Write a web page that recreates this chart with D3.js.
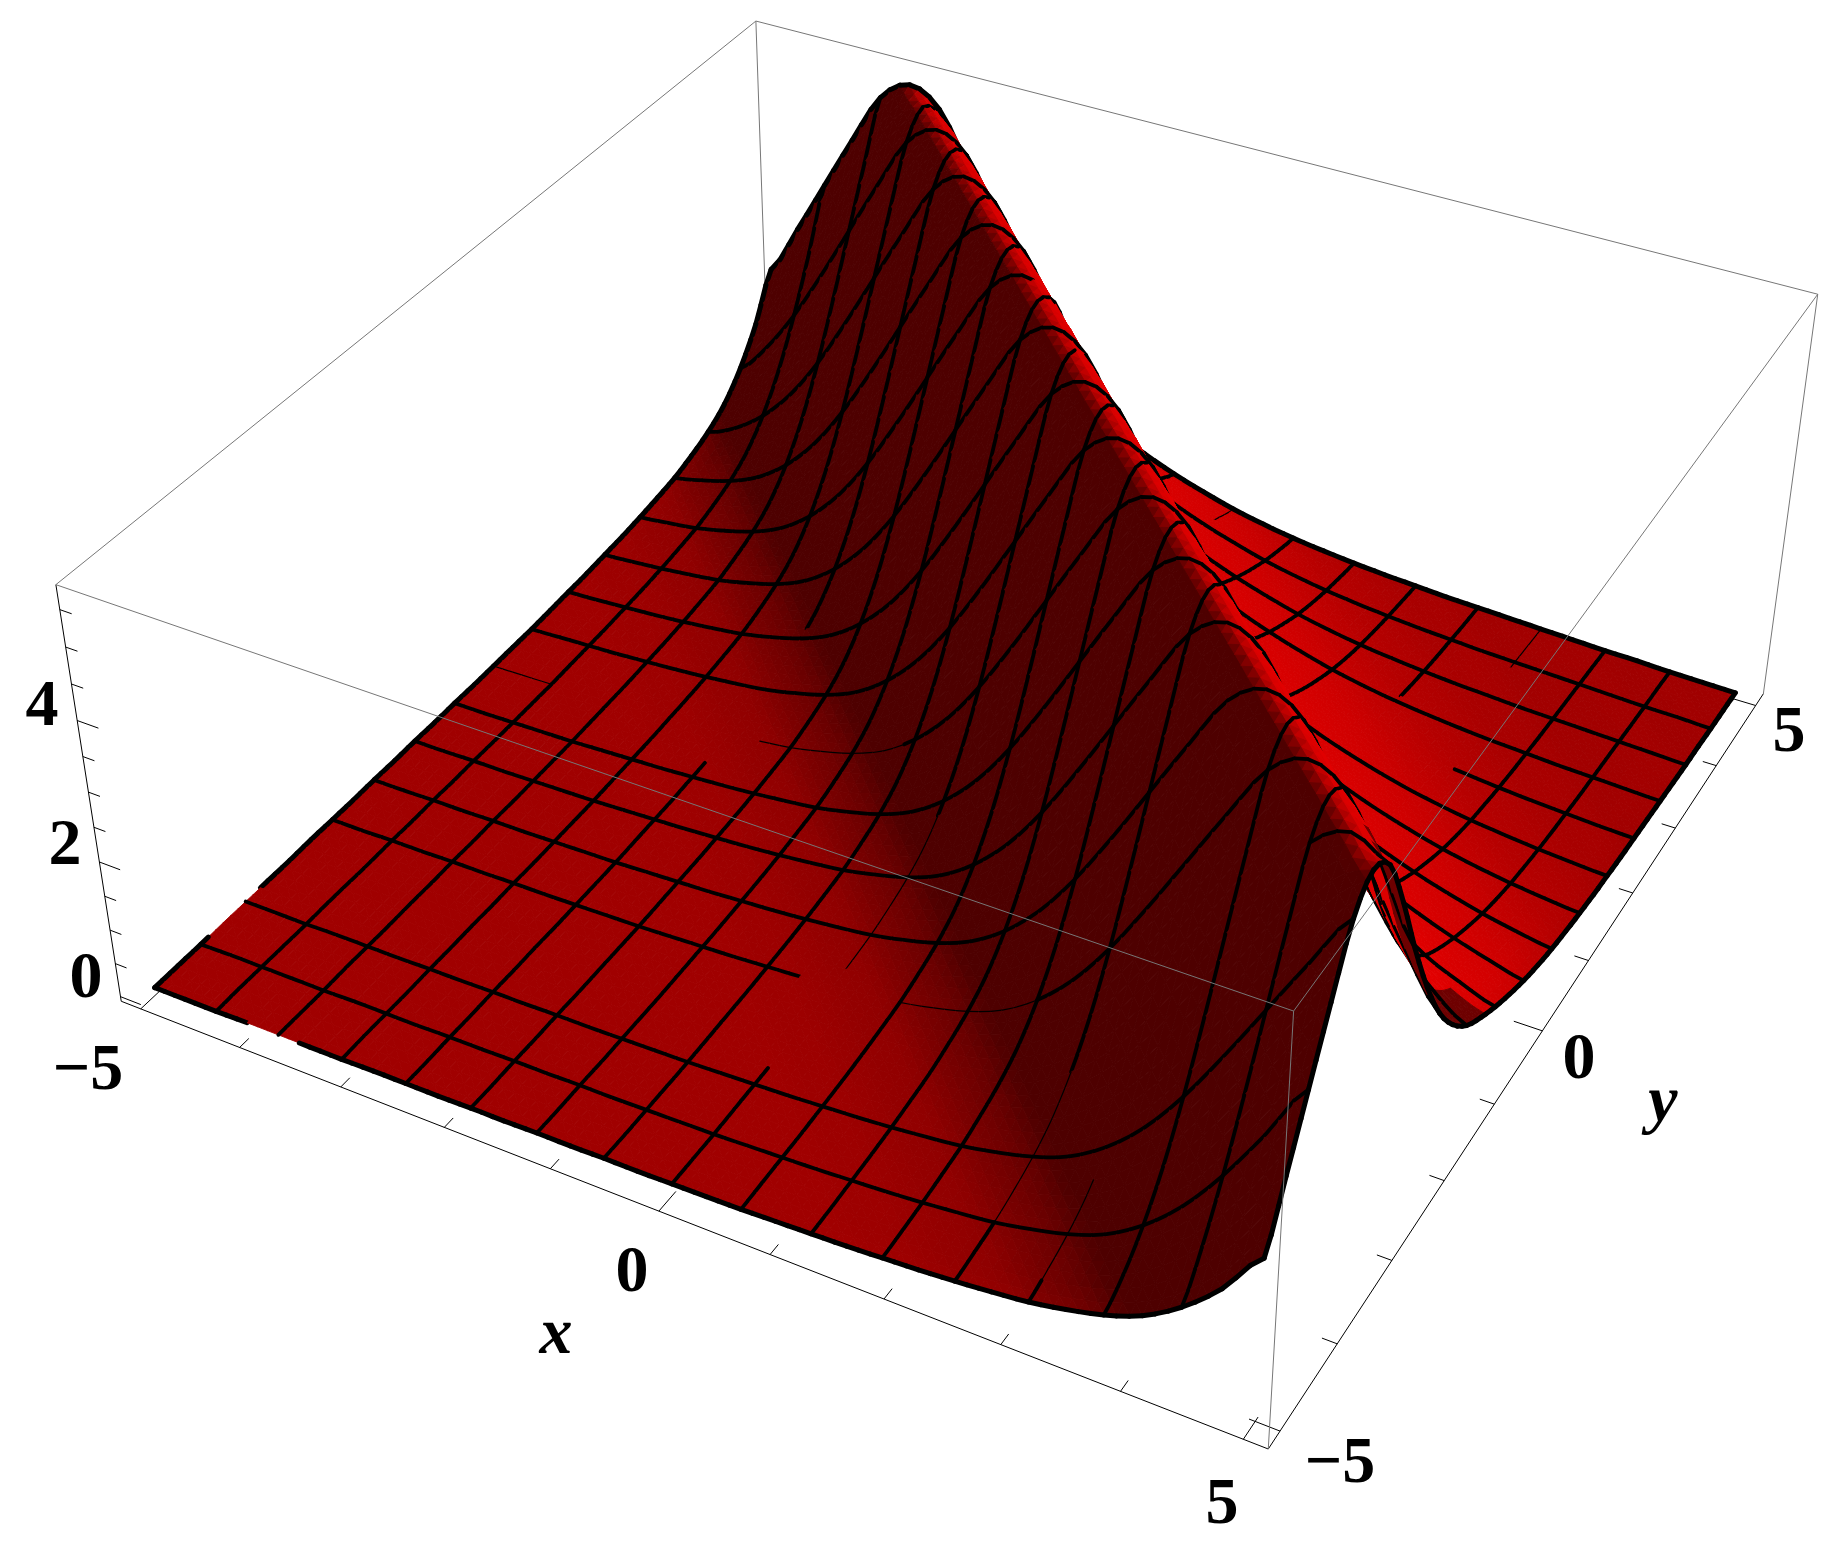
<!DOCTYPE html>
<html>
<head>
<meta charset="utf-8">
<script src="https://cdnjs.cloudflare.com/ajax/libs/d3/7.8.5/d3.min.js"></script>
<style>
  html, body { margin: 0; padding: 0; background: #fff; }
  .tickLabel { font-family: "Liberation Serif", serif; font-weight: bold; font-size: 66px; text-anchor: middle; }
  .axisName { font-style: italic; }
</style>
</head>
<body>
<div id="plot"></div>
<script>
// sample positions of the surface, the mesh lines fall on every second one
var gridX = [-5, -4.6875, -4.375, -4.0625, -3.75, -3.4375, -3.125, -2.8125, -2.5, -2.1875, -1.875, -1.5625, -1.25, -0.9375, -0.625, -0.3125, 0, 0.3125, 0.625, 0.9375, 1.25, 1.5625, 1.875, 2.1875, 2.5, 2.8125, 3.125, 3.4375, 3.75, 4.0625, 4.375, 4.6875, 5];
var gridY = [-5, -4.6875, -4.375, -4.0625, -3.75, -3.4375, -3.125, -2.8125, -2.5, -2.1875, -1.875, -1.5625, -1.25, -0.9375, -0.625, -0.3125, 0, 0.3125, 0.625, 0.9375, 1.25, 1.5625, 1.875, 2.1875, 2.5, 2.8125, 3.125, 3.4375, 3.75, 4.0625, 4.375, 4.6875, 5];

// heights, one row per gridY (front to back), one column per gridX
var surfaceZ = [
  [.04,.04,.04,.05,.05,.05,.05,.06,.06,.06,.07,.07,.08,.08,.09,.09,.10,.11,.12,.14,.16,.18,.21,.24,.28,.33,.39,.49,.62,.82,1.15,1.62,2.25],
  [.04,.04,.05,.05,.05,.05,.06,.06,.06,.07,.07,.08,.08,.09,.09,.10,.11,.12,.14,.16,.18,.21,.24,.28,.33,.39,.49,.62,.82,1.15,1.62,2.25,3.0],
  [.04,.05,.05,.05,.05,.06,.06,.06,.07,.07,.08,.08,.09,.09,.10,.11,.12,.14,.16,.18,.21,.24,.28,.33,.39,.49,.62,.82,1.15,1.62,2.25,3.0,3.8],
  [.05,.05,.05,.05,.06,.06,.06,.07,.07,.08,.08,.09,.09,.10,.11,.12,.14,.16,.18,.21,.24,.28,.33,.39,.49,.62,.82,1.15,1.62,2.25,3.0,3.8,4.6],
  [.05,.05,.05,.06,.06,.06,.07,.07,.08,.08,.09,.09,.10,.11,.12,.14,.16,.18,.21,.24,.28,.33,.39,.49,.62,.82,1.15,1.62,2.25,3.0,3.8,4.6,5.35],
  [.05,.05,.06,.06,.06,.07,.07,.08,.08,.09,.09,.10,.11,.12,.14,.16,.18,.21,.24,.28,.33,.39,.49,.62,.82,1.15,1.62,2.25,3.0,3.8,4.6,5.35,5.65],
  [.05,.06,.06,.06,.07,.07,.08,.08,.09,.09,.10,.11,.12,.14,.16,.18,.21,.24,.28,.33,.39,.49,.62,.82,1.15,1.62,2.25,3.0,3.8,4.6,5.35,5.65,5.4],
  [.06,.06,.06,.07,.07,.08,.08,.09,.09,.10,.11,.12,.14,.16,.18,.21,.24,.28,.33,.39,.49,.62,.82,1.15,1.62,2.25,3.0,3.8,4.6,5.35,5.65,5.4,4.6],
  [.06,.06,.07,.07,.08,.08,.09,.09,.10,.11,.12,.14,.16,.18,.21,.24,.28,.33,.39,.49,.62,.82,1.15,1.62,2.25,3.0,3.8,4.6,5.35,5.65,5.4,4.6,3.65],
  [.06,.07,.07,.08,.08,.09,.09,.10,.11,.12,.14,.16,.18,.21,.24,.28,.33,.39,.49,.62,.82,1.15,1.62,2.25,3.0,3.8,4.6,5.35,5.65,5.4,4.6,3.65,2.8],
  [.07,.07,.08,.08,.09,.09,.10,.11,.12,.14,.16,.18,.21,.24,.28,.33,.39,.49,.62,.82,1.15,1.62,2.25,3.0,3.8,4.6,5.35,5.65,5.4,4.6,3.65,2.8,2.1],
  [.07,.08,.08,.09,.09,.10,.11,.12,.14,.16,.18,.21,.24,.28,.33,.39,.49,.62,.82,1.15,1.62,2.25,3.0,3.8,4.6,5.35,5.65,5.4,4.6,3.65,2.8,2.1,1.6],
  [.08,.08,.09,.09,.10,.11,.12,.14,.16,.18,.21,.24,.28,.33,.39,.49,.62,.82,1.15,1.62,2.25,3.0,3.8,4.6,5.35,5.65,5.4,4.6,3.65,2.8,2.1,1.6,1.25],
  [.08,.09,.09,.10,.11,.12,.14,.16,.18,.21,.24,.28,.33,.39,.49,.62,.82,1.15,1.62,2.25,3.0,3.8,4.6,5.35,5.65,5.4,4.6,3.65,2.8,2.1,1.6,1.25,1.03],
  [.09,.09,.10,.11,.12,.14,.16,.18,.21,.24,.28,.33,.39,.49,.62,.82,1.15,1.62,2.25,3.0,3.8,4.6,5.35,5.65,5.4,4.6,3.65,2.8,2.1,1.6,1.25,1.03,.85],
  [.09,.10,.11,.12,.14,.16,.18,.21,.24,.28,.33,.39,.49,.62,.82,1.15,1.62,2.25,3.0,3.8,4.6,5.35,5.65,5.4,4.6,3.65,2.8,2.1,1.6,1.25,1.03,.85,.70],
  [.10,.11,.12,.14,.16,.18,.21,.24,.28,.33,.39,.49,.62,.82,1.15,1.62,2.25,3.0,3.8,4.6,5.35,5.65,5.4,4.6,3.65,2.8,2.1,1.6,1.25,1.03,.85,.70,.57],
  [.11,.12,.14,.16,.18,.21,.24,.28,.33,.39,.49,.62,.82,1.15,1.62,2.25,3.0,3.8,4.6,5.35,5.65,5.4,4.6,3.65,2.8,2.1,1.6,1.25,1.03,.85,.70,.57,.47],
  [.12,.14,.16,.18,.21,.24,.28,.33,.39,.49,.62,.82,1.15,1.62,2.25,3.0,3.8,4.6,5.35,5.65,5.4,4.6,3.65,2.8,2.1,1.6,1.25,1.03,.85,.70,.57,.47,.39],
  [.14,.16,.18,.21,.24,.28,.33,.39,.49,.62,.82,1.15,1.62,2.25,3.0,3.8,4.6,5.35,5.65,5.4,4.6,3.65,2.8,2.1,1.6,1.25,1.03,.85,.70,.57,.47,.39,.33],
  [.16,.18,.21,.24,.28,.33,.39,.49,.62,.82,1.15,1.62,2.25,3.0,3.8,4.6,5.35,5.65,5.4,4.6,3.65,2.8,2.1,1.6,1.25,1.03,.85,.70,.57,.47,.39,.33,.28],
  [.18,.21,.24,.28,.33,.39,.49,.62,.82,1.15,1.62,2.25,3.0,3.8,4.6,5.35,5.65,5.4,4.6,3.65,2.8,2.1,1.6,1.25,1.03,.85,.70,.57,.47,.39,.33,.28,.24],
  [.21,.24,.28,.33,.39,.49,.62,.82,1.15,1.62,2.25,3.0,3.8,4.6,5.35,5.65,5.4,4.6,3.65,2.8,2.1,1.6,1.25,1.03,.85,.70,.57,.47,.39,.33,.28,.24,.21],
  [.24,.28,.33,.39,.49,.62,.82,1.15,1.62,2.25,3.0,3.8,4.6,5.35,5.65,5.4,4.6,3.65,2.8,2.1,1.6,1.25,1.03,.85,.70,.57,.47,.39,.33,.28,.24,.21,.18],
  [.28,.33,.39,.49,.62,.82,1.15,1.62,2.25,3.0,3.8,4.6,5.35,5.65,5.4,4.6,3.65,2.8,2.1,1.6,1.25,1.03,.85,.70,.57,.47,.39,.33,.28,.24,.21,.18,.16],
  [.33,.39,.49,.62,.82,1.15,1.62,2.25,3.0,3.8,4.6,5.35,5.65,5.4,4.6,3.65,2.8,2.1,1.6,1.25,1.03,.85,.70,.57,.47,.39,.33,.28,.24,.21,.18,.16,.14],
  [.39,.49,.62,.82,1.15,1.62,2.25,3.0,3.8,4.6,5.35,5.65,5.4,4.6,3.65,2.8,2.1,1.6,1.25,1.03,.85,.70,.57,.47,.39,.33,.28,.24,.21,.18,.16,.14,.12],
  [.49,.62,.82,1.15,1.62,2.25,3.0,3.8,4.6,5.35,5.65,5.4,4.6,3.65,2.8,2.1,1.6,1.25,1.03,.85,.70,.57,.47,.39,.33,.28,.24,.21,.18,.16,.14,.12,.10],
  [.62,.82,1.15,1.62,2.25,3.0,3.8,4.6,5.35,5.65,5.4,4.6,3.65,2.8,2.1,1.6,1.25,1.03,.85,.70,.57,.47,.39,.33,.28,.24,.21,.18,.16,.14,.12,.10,.08],
  [.82,1.15,1.62,2.25,3.0,3.8,4.6,5.35,5.65,5.4,4.6,3.65,2.8,2.1,1.6,1.25,1.03,.85,.70,.57,.47,.39,.33,.28,.24,.21,.18,.16,.14,.12,.10,.08,.07],
  [1.15,1.62,2.25,3.0,3.8,4.6,5.35,5.65,5.4,4.6,3.65,2.8,2.1,1.6,1.25,1.03,.85,.70,.57,.47,.39,.33,.28,.24,.21,.18,.16,.14,.12,.10,.08,.07,.05],
  [1.62,2.25,3.0,3.8,4.6,5.35,5.65,5.4,4.6,3.65,2.8,2.1,1.6,1.25,1.03,.85,.70,.57,.47,.39,.33,.28,.24,.21,.18,.16,.14,.12,.10,.08,.07,.05,.04],
  [2.25,3.0,3.8,4.6,5.35,5.65,5.4,4.6,3.65,2.8,2.1,1.6,1.25,1.03,.85,.70,.57,.47,.39,.33,.28,.24,.21,.18,.16,.14,.12,.10,.08,.07,.05,.04,.03]
];

// stretches where the mesh line drops out or goes hairline in the picture
// [family, line number 0-16, from, to (in mesh cells along the line), width]
var meshBreaks = [
  ["x", 0, 1.1, 2.4, 0],
  ["y", 0, 1.5, 2.3, 0],
  ["y", 3, 0, 15, 0],
  ["y", 4, 7.45, 9, 0],
  ["y", 4, 9, 11, 1.2],
  ["y", 8, 0, 1, 1.2],
  ["y", 8, 1, 4.5, 0],
  ["y", 8, 4.5, 6.9, 1.2],
  ["y", 12, 6.7, 13.3, 0],
  ["x", 4, 7.4, 10.2, 0],
  ["x", 8, 2.3, 4.3, 0],
  ["x", 8, 4.3, 6.9, 1.2],
  ["x", 8, 10.7, 15.4, 0],
  ["x", 8, 15.4, 16, 1.2],
  ["x", 12, 1, 3, 1.2],
  ["x", 12, 6.8, 13.2, 0],
  ["x", 13, 0.3, 1.7, 1.2],
  ["x", 13, 1.7, 14.9, 0],
  ["x", 13, 14.9, 16, 1.2]
];

var xTicks = [-5, -4, -3, -2, -1, 0, 1, 2, 3, 4, 5];
var yTicks = [-5, -4, -3, -2, -1, 0, 1, 2, 3, 4, 5];
var zTicks = [0, 0.5, 1, 1.5, 2, 2.5, 3, 3.5, 4, 4.5, 5, 5.5];
var xMajor = [-5, 0, 5];
var yMajor = [-5, 0, 5];
var zMajor = [0, 2, 4];

var svgWidth = 1843;
var svgHeight = 1545;

var svg = d3.select("#plot")
  .append("svg")
  .attr("width", svgWidth)
  .attr("height", svgHeight)
  .style("display", "block");

// box coordinates
var xScale = d3.scaleLinear().domain([-5.2, 5.2]).range([0, 1]);
var yScale = d3.scaleLinear().domain([-5.2, 5.2]).range([0, 1]);
var zScale = d3.scaleLinear().domain([-0.07, 5.83]).range([0, 1]);

// where the box corners land on the page, the camera is fitted to these
var boxCorners = [
  [0, 0, 0, 121, 1001],
  [1, 0, 0, 1269, 1449],
  [1, 1, 0, 1763, 694],
  [0, 0, 1, 56, 585],
  [1, 0, 1, 1293, 1011],
  [1, 1, 1, 1818, 294],
  [0, 1, 1, 756, 21]
];

function solve(A, b) {
  var n = b.length;
  for (var c = 0; c < n; c++) {
    var best = c;
    for (var r = c + 1; r < n; r++) {
      if (Math.abs(A[r][c]) > Math.abs(A[best][c])) best = r;
    }
    var tmp = A[c]; A[c] = A[best]; A[best] = tmp;
    var tb = b[c]; b[c] = b[best]; b[best] = tb;
    for (var r2 = c + 1; r2 < n; r2++) {
      var f = A[r2][c] / A[c][c];
      for (var k = c; k < n; k++) A[r2][k] -= f * A[c][k];
      b[r2] -= f * b[c];
    }
  }
  var out = new Array(n);
  for (var i = n - 1; i >= 0; i--) {
    var s = b[i];
    for (var j = i + 1; j < n; j++) s -= A[i][j] * out[j];
    out[i] = s / A[i][i];
  }
  return out;
}

function fitCamera(corners) {
  var rows = [], rhs = [];
  corners.forEach(function(c) {
    rows.push([c[0], c[1], c[2], 1, 0, 0, 0, 0, -c[3] * c[0], -c[3] * c[1], -c[3] * c[2]]);
    rhs.push(c[3]);
    rows.push([0, 0, 0, 0, c[0], c[1], c[2], 1, -c[4] * c[0], -c[4] * c[1], -c[4] * c[2]]);
    rhs.push(c[4]);
  });
  var AtA = d3.range(11).map(function(a) {
    return d3.range(11).map(function(b) {
      return d3.sum(rows, function(r) { return r[a] * r[b]; });
    });
  });
  var Atb = d3.range(11).map(function(a) {
    return d3.sum(rows, function(r, i) { return r[a] * rhs[i]; });
  });
  return solve(AtA, Atb);
}

var cam = fitCamera(boxCorners);

function toPage(u, v, w) {
  var d = cam[8] * u + cam[9] * v + cam[10] * w + 1;
  return [
    (cam[0] * u + cam[1] * v + cam[2] * w + cam[3]) / d,
    (cam[4] * u + cam[5] * v + cam[6] * w + cam[7]) / d
  ];
}

function project(x, y, z) {
  return toPage(xScale(x), yScale(y), zScale(z));
}

var line = d3.line();

// smooth the read values for drawing, same idea as a catmull-rom curve but in two directions
var sub = 3;
var perMesh = sub * 2;
function cr(a, b, c, d, t) {
  return 0.5 * (2 * b + (c - a) * t + (2 * a - 5 * b + 4 * c - d) * t * t + (3 * b - a - 3 * c + d) * t * t * t);
}
function clampIdx(i) { return Math.max(0, Math.min(gridX.length - 1, i)); }
function heightAt(fi, fj) {
  var i = Math.min(Math.floor(fi), gridX.length - 2), j = Math.min(Math.floor(fj), gridY.length - 2);
  var tx = fi - i, ty = fj - j;
  var col = [-1, 0, 1, 2].map(function(dj) {
    var row = surfaceZ[clampIdx(j + dj)];
    return cr(row[clampIdx(i - 1)], row[clampIdx(i)], row[clampIdx(i + 1)], row[clampIdx(i + 2)], tx);
  });
  return cr(col[0], col[1], col[2], col[3], ty);
}

var n = (gridX.length - 1) * sub;
var fineX = d3.scaleLinear().domain([0, n]).range([gridX[0], gridX[gridX.length - 1]]);
var fineY = d3.scaleLinear().domain([0, n]).range([gridY[0], gridY[gridY.length - 1]]);
var fineZ = d3.range(n + 1).map(function(j) {
  return d3.range(n + 1).map(function(i) { return heightAt(i / sub, j / sub); });
});
var pts = fineZ.map(function(row, j) {
  return row.map(function(z, i) { return project(fineX(i), fineY(j), z); });
});

// light comes from the +x +y side, flat parts stay at the base red
var shade = d3.scaleLinear().domain([-0.25, 0.1, 0.38, 0.54, 1]).range([78, 125, 160, 160, 226]).clamp(true);
var lightDir = [0.62, 0.62, 0.48];
var reds = d3.range(n + 1).map(function(j) {
  return d3.range(n + 1).map(function(i) {
    var i0 = Math.max(0, i - 1), i1 = Math.min(n, i + 1), j0 = Math.max(0, j - 1), j1 = Math.min(n, j + 1);
    var zx = (fineZ[j][i1] - fineZ[j][i0]) / (fineX(i1) - fineX(i0));
    var zy = (fineZ[j1][i] - fineZ[j0][i]) / (fineY(j1) - fineY(j0));
    var len = Math.sqrt(1 + zx * zx + zy * zy);
    return shade((-zx * lightDir[0] - zy * lightDir[1] + lightDir[2]) / len);
  });
});

// width of a mesh line at position t along it
function meshWidth(family, index, t, normal) {
  var w = normal;
  meshBreaks.forEach(function(b) {
    if (b[0] === family && b[1] === index && t >= b[2] && t < b[3]) w = b[4];
  });
  return w;
}

// painter order, back corner first
var marks = [];
function addEdge(a, b, family, index, t, normal) {
  var w = meshWidth(family, index, t, normal);
  if (w > 0) marks.push({ d: line([a, b]), fill: "none", stroke: "#000", width: w });
}
function addTriangle(a, b, c, red) {
  var col = "rgb(" + Math.round(red) + ",0,0)";
  marks.push({ d: line([a, b, c]) + "Z", fill: col, stroke: col, width: 0.9 });
}
var last = n - 1;
for (var i = 0; i < n; i++) {
  for (var j = n - 1; j >= 0; j--) {
    // cells are split along the ridge direction so the shading does not staircase
    var lowRed = (reds[j][i] + reds[j + 1][i] + reds[j][i + 1]) / 3;
    var highRed = (reds[j + 1][i + 1] + reds[j + 1][i] + reds[j][i + 1]) / 3;
    // the last strip at x = 5 turns dark between the crest and the dip
    var xHere = fineX(i), yHere = fineY(j);
    if (xHere > 4.6 && xHere + yHere > 1.7 && yHere < -0.9) {
      lowRed = 110;
      highRed = 110;
    }
    addTriangle(pts[j + 1][i + 1], pts[j + 1][i], pts[j][i + 1], highRed);
    addTriangle(pts[j][i], pts[j + 1][i], pts[j][i + 1], lowRed);
    var tx = (i + 0.5) / perMesh, ty = (j + 0.5) / perMesh;
    if (i % perMesh === 0) addEdge(pts[j][i], pts[j + 1][i], "x", i / perMesh, ty, i === 0 ? 5 : 3.8);
    if ((j + 1) % perMesh === 0) addEdge(pts[j + 1][i], pts[j + 1][i + 1], "y", (j + 1) / perMesh, tx, j === last ? 5 : 3.8);
    if (j === 0) addEdge(pts[j][i], pts[j][i + 1], "y", 0, tx, 5);
    if (i === last) addEdge(pts[j][i + 1], pts[j + 1][i + 1], "x", 16, ty, 5);
  }
}

function boxLine(g, a, b, color) {
  g.append("path")
    .attr("d", line([toPage(a[0], a[1], a[2]), toPage(b[0], b[1], b[2])]))
    .attr("fill", "none")
    .attr("stroke", color)
    .attr("stroke-width", 1);
}

// back of the box and the axes go under the surface
var behind = svg.append("g");
boxLine(behind, [0, 1, 1], [0, 0, 1], "#777");
boxLine(behind, [0, 1, 1], [1, 1, 1], "#777");
boxLine(behind, [0, 1, 1], [0, 1, 0], "#777");
boxLine(behind, [1, 1, 1], [1, 1, 0], "#777");
boxLine(behind, [0, 0, 0], [0, 0, 1], "#000");
boxLine(behind, [0, 0, 0], [1, 0, 0], "#000");
boxLine(behind, [1, 0, 0], [1, 1, 0], "#000");

xTicks.forEach(function(t) {
  var len = xMajor.indexOf(t) >= 0 ? 0.024 : 0.012;
  boxLine(behind, [xScale(t), 0, 0], [xScale(t), len, 0], "#000");
});
yTicks.forEach(function(t) {
  var len = yMajor.indexOf(t) >= 0 ? 0.024 : 0.012;
  boxLine(behind, [1, yScale(t), 0], [1 - len, yScale(t), 0], "#000");
});
zTicks.forEach(function(t) {
  var len = zMajor.indexOf(t) >= 0 ? 0.02 : 0.011;
  boxLine(behind, [0, 0, zScale(t)], [len, 0, zScale(t)], "#000");
});

svg.append("g")
  .selectAll("path")
  .data(marks)
  .enter()
  .append("path")
  .attr("d", function(d) { return d.d; })
  .attr("fill", function(d) { return d.fill; })
  .attr("stroke", function(d) { return d.stroke; })
  .attr("stroke-width", function(d) { return d.width; })
  .attr("stroke-linecap", function(d) { return d.fill === "none" ? "round" : "butt"; });

// front edges of the box sit on top
var front = svg.append("g");
boxLine(front, [0, 0, 1], [1, 0, 1], "#777");
boxLine(front, [1, 0, 1], [1, 1, 1], "#777");
boxLine(front, [1, 0, 1], [1, 0, 0], "#777");

// labels
var labels = [
  { text: "4", x: 42, y: 703 },
  { text: "2", x: 65, y: 842 },
  { text: "0", x: 86, y: 975 },
  { text: "\u22125", x: 88, y: 1067 },
  { text: "0", x: 632, y: 1269 },
  { text: "x", x: 556, y: 1331, name: true },
  { text: "5", x: 1222, y: 1501 },
  { text: "\u22125", x: 1340, y: 1460 },
  { text: "0", x: 1579, y: 1056 },
  { text: "y", x: 1663, y: 1099, name: true },
  { text: "5", x: 1789, y: 729 }
];
svg.append("g")
  .selectAll("text")
  .data(labels)
  .enter()
  .append("text")
  .attr("class", function(d) { return d.name ? "tickLabel axisName" : "tickLabel"; })
  .attr("x", function(d) { return d.x; })
  .attr("y", function(d) { return d.y; })
  .attr("dy", "0.33em")
  .text(function(d) { return d.text; });
</script>
</body>
</html>
